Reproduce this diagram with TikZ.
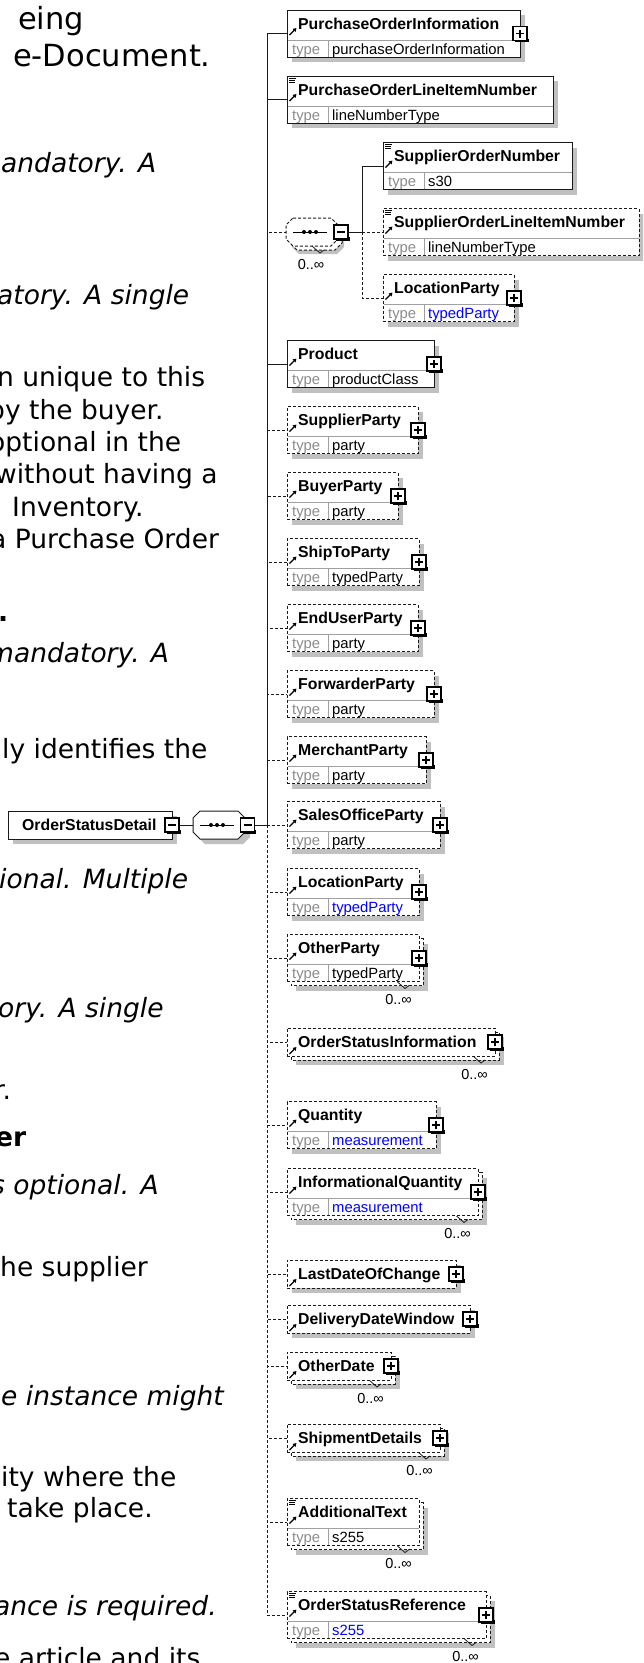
\documentclass[tikz,border=0pt]{standalone}
\usepackage{fontspec}
\setmainfont{DejaVu Sans}
\newfontfamily\xsf{Liberation Sans}
\usetikzlibrary{arrows.meta}
\definecolor{shgray}{HTML}{C0C0C0}
\definecolor{typegray}{HTML}{8C8C8C}
\definecolor{divgray}{HTML}{A0A0A0}
\definecolor{xblue}{HTML}{0000FF}
\definecolor{edge}{HTML}{1A1A1A}
\tikzset{
  conn/.style={line width=1pt, draw=edge},
  dsh/.style={dash pattern=on 3pt off 2pt},
  elbd/.style={solid},
  bx/.style={draw=edge, line width=1pt, fill=white, rectangle, inner sep=0pt, outer sep=0pt, anchor=north west},
  nm/.style={font=\xsf\bfseries\fontsize{15.8}{18}\selectfont, inner sep=0pt, anchor=base west},
  ty/.style={font=\xsf\fontsize{14.8}{17}\selectfont, inner sep=0pt, anchor=base west},
  oc/.style={font=\xsf\fontsize{14.5}{17}\selectfont, inner sep=0pt, anchor=base east},
  tog/.style={draw=black, line width=1.2pt, fill=white, rectangle, minimum size=14pt, inner sep=0pt, outer sep=0pt},
  lt/.style={font=\fontsize{26.5}{32}\selectfont, inner sep=0pt, anchor=base west},
  lti/.style={font=\fontsize{26.5}{32}\selectfont\itshape, inner sep=0pt, anchor=base west},
  ltb/.style={font=\fontsize{26.5}{32}\selectfont\bfseries, inner sep=0pt, anchor=base west},
  ltbig/.style={font=\fontsize{30.5}{37}\selectfont, inner sep=0pt, anchor=base west},
  hid/.style={rectangle, inner sep=0pt, outer sep=0pt},
}
\pgfkeys{
 /el/rows/.store in=\elRows,
 /el/bd/.code={\tikzset{elbd/.style={#1}}},
 /el/stk/.store in=\elStk,
 /el/pl/.store in=\elPl,
 /el/smp/.store in=\elSmp,
 /el/ty/.store in=\elTy,
 /el/tc/.store in=\elTc,
 /el/ex/.store in=\elX,
}
\newcommand\Tog[4]{%
  \node[tog] (#1) at ({#2},{#3}) {};
  \draw[line width=1.2pt] ([xshift=1pt,yshift=2pt]#1.south east) -- ([xshift=1pt,yshift=-1pt]#1.south east) -- ([xshift=2pt,yshift=-1pt]#1.south west);
  \draw[line width=1.1pt] ([xshift=3pt]#1.west) -- ([xshift=-3pt]#1.east);
  \ifnum#4=1 \draw[line width=1.1pt] ([yshift=-3pt]#1.north) -- ([yshift=3pt]#1.south);\fi
}
\newcommand\Oct[5]{\path[#1] ({#2+7},{#3}) -- ({#4-7},{#3}) -- ({#4},{#3+7}) -- ({#4},{#5-7}) -- ({#4-7},{#5}) -- ({#2+7},{#5}) -- ({#2},{#5-7}) -- ({#2},{#3+7}) -- cycle;}
\newcommand\SeqSym[2]{\draw[line width=1pt] ({#1-17},{#2}) -- ({#1+17},{#2});
  \foreach \dx in {-6,0,6} \fill ({#1+\dx},{#2}) circle (2pt);}
\newcommand\Elem[5][]{%
 \pgfkeys{/el/.cd,rows=2,bd=solid,stk=0,pl=0,smp=0,ty={},tc=black,ex=287,#1}%
 \ifnum\elRows=2 \def\elH{47}\def\elA{25}\else\def\elH{28}\def\elA{26}\fi
 \pgfmathsetmacro\elT{#3-\elH/2}%
 \def\elW{#4}%
 \ifnum\elStk=1
   \fill[shgray] ({\elX+9},{\elT+9}) rectangle ++(\elW,\elH);
   \draw[edge,line width=1pt,elbd,fill=white] ({\elX+4},{\elT+4}) rectangle ++(\elW,\elH);
   \draw[edge,line width=0.8pt] ({\elX+\elW-22},{\elT+\elH}) -- ++(8,7) -- ++(4,-3);
   \node[oc] at ({\elX+\elW-7},{\elT+\elH+23}) {0..∞};
 \else
   \fill[shgray] ({\elX+5},{\elT+5}) rectangle ++(\elW,\elH);
 \fi
 \node[bx,elbd,minimum width=\elW pt,minimum height=\elH pt] (#2) at (\elX,\elT) {};
 \ifnum\elRows=2
   \draw[divgray,line width=1pt] ({\elX+0.5},{\elT+30}) -- ++({\elW-1},0);
   \draw[divgray,line width=1pt] ({\elX+41},{\elT+30}) -- ({\elX+41},{\elT+\elH-0.5});
   \node[ty,text=typegray] at ({\elX+5},{\elT+44}) {type};
   \node[ty,text=\elTc] at ({\elX+45},{\elT+44}) {\elTy};
 \fi
 \node[nm] at ({\elX+11},{\elT+19}) {#5};
 \draw[line width=1.3pt,-{Triangle[length=3.5pt,width=4pt]}] ({\elX+2.5},{\elT+\elA}) -- ++(7,-7);
 \ifnum\elSmp=1 \draw[line width=0.7pt] ({\elX+2},{\elT+2}) -- ++(7,0) ({\elX+2},{\elT+4}) -- ++(6,0) ({\elX+2},{\elT+6}) -- ++(6,0);\fi
 \ifnum\elPl=1 \Tog{#2p}{\elX+\elW}{#3}{1}\fi
}
\begin{document}
\begin{tikzpicture}[x=1pt,y=-1pt]
\useasboundingbox (0,0) rectangle (643,1663);
\clip (0,0) rectangle (643,1663);
\fill[white] (0,0) rectangle (643,1663);
% left text fragments
\node[ltbig] (t1) at (18,29) {eing};
\node[ltbig] (t2) at (13,66) {e-Document.};
\node[lti] (t3) at (1,172) {andatory. A};
\node[lti] (t4) at (-3,304) {atory. A single};
\node[lt] (t5) at (-3,386) {n unique to this};
\node[lt] (t6) at (-12,419) {by the buyer.};
\node[lt] (t7) at (-11,451) {optional in the};
\node[lt] (t8) at (-5,483) {without having a};
\node[lt] (t9) at (12,516) {Inventory.};
\node[lt] (t10) at (-10,548) {a Purchase Order};
\node[ltb] (t11) at (-2,621) {.};
\node[lti] (t12) at (-12,662) {mandatory. A};
\node[lt] (t13) at (2,758) {ly identifies the};
\node[lti] (t14) at (-1,888) {ional. Multiple};
\node[lti] (t15) at (-2,1017) {ory. A single};
\node[lt] (t16) at (-6,1099) {r.};
\node[ltb] (t17) at (-5,1146) {er};
\node[lti] (t18) at (-9,1194) {s optional. A};
\node[lt] (t19) at (0,1276) {he supplier};
\node[lti] (t20) at (1,1405) {e instance might};
\node[lt] (t21) at (1,1486) {ity where the};
\node[lt] (t22) at (7,1517) {take place.};
\node[lti] (t23) at (-6,1615) {ance is required.};
\node[lt] (t24) at (-6,1667) {e article and its};
% root
\fill[shgray] (13,816) rectangle ++(164,28);
\node[bx,minimum width=164pt,minimum height=28pt] (root) at (8,811) {};
\node[nm] (rootlbl) at (22,830) {OrderStatusDetail};
\Tog{rootm}{172}{825}{0}
\Oct{fill=shgray}{198}{816}{250}{844}
\Oct{draw=edge,line width=1pt,fill=white}{193}{811}{245}{839}
\node[hid,minimum width=52pt,minimum height=28pt] (seq) at (219,825) {};
\SeqSym{217}{825}
\Tog{seqm}{247.5}{825}{0}
\coordinate (spine) at (267,825);
% nested sequence
\Oct{fill=shgray}{292}{224}{344}{254}
\Oct{draw=edge,line width=1pt,dsh,fill=white}{290}{222}{342}{250}
\Oct{draw=edge,line width=1pt,dsh,fill=white}{286}{218}{338}{246}
\node[hid,minimum width=52pt,minimum height=28pt] (seq2) at (312,232) {};
\SeqSym{310}{232}
\Tog{seq2m}{341}{232}{0}
\draw[edge,line width=0.8pt] (312,246) -- ++(8,7) -- ++(4,-3);
\node[oc,anchor=base] (seq2occ) at (311,269) {0..∞};
\coordinate (sub) at (362,232);
% elements
\Elem[pl=1,ty=purchaseOrderInformation]{poi}{33.5}{233}{PurchaseOrderInformation}
\Elem[smp=1,ty=lineNumberType]{polin}{99.5}{266}{PurchaseOrderLineItemNumber}
\Elem[ex=383,smp=1,ty=s30]{son}{166}{189}{SupplierOrderNumber}
\Elem[ex=383,smp=1,bd=dsh,ty=lineNumberType]{solin}{232}{256}{SupplierOrderLineItemNumber}
\Elem[ex=383,pl=1,bd=dsh,ty=typedParty,tc=xblue]{lp1}{298}{131}{LocationParty}
\Elem[pl=1,ty=productClass]{product}{364}{147}{Product}
\Elem[pl=1,bd=dsh,ty=party]{supplier}{430}{131}{SupplierParty}
\Elem[pl=1,bd=dsh,ty=party]{buyer}{496}{111}{BuyerParty}
\Elem[pl=1,bd=dsh,ty=typedParty]{shipto}{562}{132}{ShipToParty}
\Elem[pl=1,bd=dsh,ty=party]{enduser}{628}{131}{EndUserParty}
\Elem[pl=1,bd=dsh,ty=party]{forwarder}{694}{147}{ForwarderParty}
\Elem[pl=1,bd=dsh,ty=party]{merchant}{760}{139}{MerchantParty}
\Elem[pl=1,bd=dsh,ty=party]{salesoffice}{825}{153}{SalesOfficeParty}
\Elem[pl=1,bd=dsh,ty=typedParty,tc=xblue]{lp2}{892}{132}{LocationParty}
\Elem[pl=1,bd=dsh,stk=1,ty=typedParty]{other}{958}{132}{OtherParty}
\Elem[rows=1,pl=1,bd=dsh,stk=1]{osi}{1042}{208}{OrderStatusInformation}
\Elem[pl=1,bd=dsh,ty=measurement,tc=xblue]{quantity}{1125}{149}{Quantity}
\Elem[pl=1,bd=dsh,stk=1,ty=measurement,tc=xblue]{infoqty}{1192}{191}{InformationalQuantity}
\Elem[rows=1,pl=1,bd=dsh]{ldoc}{1274}{169}{LastDateOfChange}
\Elem[rows=1,pl=1,bd=dsh]{ddw}{1319}{183}{DeliveryDateWindow}
\Elem[rows=1,pl=1,bd=dsh,stk=1]{otherdate}{1366}{104}{OtherDate}
\Elem[rows=1,pl=1,bd=dsh,stk=1]{shipment}{1438}{153}{ShipmentDetails}
\Elem[bd=dsh,stk=1,smp=1,ty=s255]{addtext}{1522}{132}{AdditionalText}
\Elem[pl=1,bd=dsh,stk=1,smp=1,ty=s255,tc=xblue]{osr}{1615}{199}{OrderStatusReference}
% connectors
\draw[conn] (rootm.east) -- (seq.west);
\draw[conn] (seqm.east) -- (spine);
\draw[conn] (spine) |- (poi.west);
\draw[conn] (spine) |- (polin.west);
\draw[conn,dsh] (spine) |- (seq2.west);
\draw[conn] (spine) |- (product.west);
\foreach \n in {supplier,buyer,shipto,enduser,forwarder,merchant,salesoffice,lp2,other,osi,quantity,infoqty,ldoc,ddw,otherdate,shipment,addtext,osr}
  \draw[conn,dsh] (spine) |- (\n.west);
\draw[conn] (seq2m.east) -- (sub);
\draw[conn] (sub) |- (son.west);
\draw[conn,dsh] (sub) -- (solin.west);
\draw[conn,dsh] (sub) |- (lp1.west);
\end{tikzpicture}
\end{document}
